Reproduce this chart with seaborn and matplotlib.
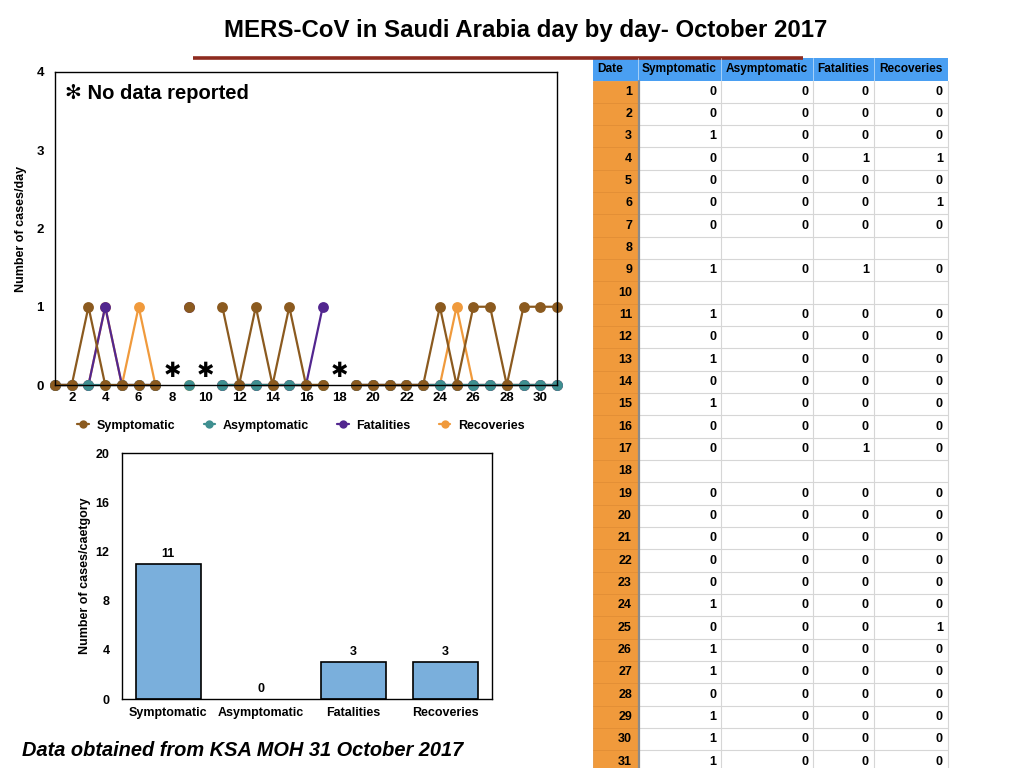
import matplotlib
matplotlib.use("Agg")
import matplotlib.pyplot as plt
from matplotlib.lines import Line2D
from matplotlib.patches import Rectangle
import seaborn as sns
import pandas as pd
import numpy as np

# ---------------- data ----------------
days = [1, 2, 3, 4, 5, 6, 7, 8, 9, 10, 11, 12, 13, 14, 15, 16,
        17, 18, 19, 20, 21, 22, 23, 24, 25, 26, 27, 28, 29, 30, 31]
N = None
symptomatic = [0, 0, 1, 0, 0, 0, 0, N, 1, N, 1, 0, 1, 0, 1, 0,
               0, N, 0, 0, 0, 0, 0, 1, 0, 1, 1, 0, 1, 1, 1]
asymptomatic = [0, 0, 0, 0, 0, 0, 0, N, 0, N, 0, 0, 0, 0, 0, 0,
                0, N, 0, 0, 0, 0, 0, 0, 0, 0, 0, 0, 0, 0, 0]
fatalities = [0, 0, 0, 1, 0, 0, 0, N, 1, N, 0, 0, 0, 0, 0, 0,
              1, N, 0, 0, 0, 0, 0, 0, 0, 0, 0, 0, 0, 0, 0]
recoveries = [0, 0, 0, 1, 0, 1, 0, N, 0, N, 0, 0, 0, 0, 0, 0,
              0, N, 0, 0, 0, 0, 0, 0, 1, 0, 0, 0, 0, 0, 0]
no_data_days = [8, 10, 18]

categories = ["Symptomatic", "Asymptomatic", "Fatalities", "Recoveries"]
totals = [11, 0, 3, 3]

title = "MERS-CoV in Saudi Arabia day by day- October 2017"
footer = "Data obtained from KSA MOH 31 October 2017"

colors = {"Symptomatic": "#8b5a1f", "Asymptomatic": "#3f8f90",
          "Fatalities": "#52268f", "Recoveries": "#f09a3c"}
series = {"Symptomatic": symptomatic, "Asymptomatic": asymptomatic,
          "Fatalities": fatalities, "Recoveries": recoveries}

# ---------------- style ----------------
sns.set_theme(style="white")
plt.rcParams["font.family"] = ["Liberation Sans", "DejaVu Sans"]
plt.rcParams["font.weight"] = "bold"
plt.rcParams["axes.labelweight"] = "bold"
for k in ["text.color", "axes.labelcolor", "xtick.color", "ytick.color"]:
    plt.rcParams[k] = "black"

fig = plt.figure(figsize=(10.24, 7.68), dpi=100)

W, H = 1024.0, 768.0
def rect(x0, y0, x1, y1):
    return [x0 / W, 1 - y1 / H, (x1 - x0) / W, (y1 - y0) / H]

# ---------------- line chart ----------------
ax = fig.add_axes(rect(55, 72, 557, 385))

def long_df(name):
    seg = 0
    rows = []
    for d, v in zip(days, series[name]):
        if v is None:
            seg += 1
            continue
        rows.append({"day": d, "value": v, "seg": seg})
    return pd.DataFrame(rows)

for name in ["Recoveries", "Fatalities", "Asymptomatic", "Symptomatic"]:
    sns.lineplot(data=long_df(name), x="day", y="value", units="seg",
                 estimator=None, color=colors[name], marker="o",
                 markersize=7.8, markeredgewidth=0, linewidth=1.6,
                 clip_on=False, legend=False, ax=ax)

ax.set_xlim(1, 31)
ax.set_ylim(0, 4)
ax.set_xticks(list(range(2, 31, 2)))
ax.set_yticks([0, 1, 2, 3, 4])
ax.set_xlabel("")
ax.set_ylabel("Number of cases/day", fontsize=9, fontweight="bold", labelpad=7)
ax.tick_params(axis="both", length=0, labelsize=9.5)
ax.tick_params(axis="y", pad=8)
ax.tick_params(axis="x", pad=5)
for lab in ax.get_xticklabels() + ax.get_yticklabels():
    lab.set_fontweight("bold")
for sp in ax.spines.values():
    sp.set_color("black")
    sp.set_linewidth(1.0)

for d in no_data_days:
    ax.text(d, 0.18, "\u2731", ha="center", va="center", fontsize=15,
            family=["DejaVu Sans"], color="black")
ax.text(0.02, 0.93, "\u273B No data reported", transform=ax.transAxes,
        ha="left", va="center", fontsize=14.5, fontweight="bold",
        family=["Liberation Sans", "DejaVu Sans"])

handles = [Line2D([0], [0], color=colors[c], marker="o", markersize=6,
                  markeredgewidth=0, lw=1.6) for c in categories]
ax.legend(handles, categories, ncol=4, frameon=False, loc="upper center",
          bbox_to_anchor=(0.49, -0.075), handlelength=0.9, handletextpad=0.6,
          columnspacing=2.3, prop={"weight": "bold", "size": 9})

# ---------------- bar chart ----------------
ax2 = fig.add_axes(rect(122, 453, 492, 699))
sns.barplot(x=categories, y=totals, color="#7aafdc", edgecolor="black",
            linewidth=1.2, width=0.7, saturation=1, ax=ax2)
for p, t in zip(ax2.patches, totals):
    if t == 0:
        p.set_linewidth(0)
ax2.set_ylim(0, 20)
ax2.set_yticks([0, 4, 8, 12, 16, 20])
ax2.set_ylabel("Number of cases/caetgory", fontsize=9, fontweight="bold", labelpad=3)
ax2.tick_params(axis="both", length=0, labelsize=9)
ax2.tick_params(axis="y", pad=9)
ax2.tick_params(axis="x", pad=6)
for lab in ax2.get_xticklabels() + ax2.get_yticklabels():
    lab.set_fontweight("bold")
for sp in ax2.spines.values():
    sp.set_color("black")
    sp.set_linewidth(1.0)
ax2.bar_label(ax2.containers[0], fontweight="bold", fontsize=9, padding=3)

# ---------------- overlay: title, rule, table, footer ----------------
ov = fig.add_axes([0, 0, 1, 1], zorder=-1)
ov.set_xlim(0, W)
ov.set_ylim(H, 0)
ov.axis("off")

ov.text(526, 31, title, ha="center", va="center", fontsize=17.3, fontweight="bold")
ov.plot([193, 803], [57.5, 57.5], color="#8e2b1f", lw=2.6, solid_capstyle="butt")
ov.text(22, 750, footer, ha="left", va="center", fontsize=14.4,
        fontweight="bold", style="italic")

col_edges = [593, 638, 721, 813, 874, 948]
headers = ["Date"] + categories
head_top, head_bot = 58, 80.5
row_h = 22.33
ov.add_patch(Rectangle((col_edges[0], head_top), col_edges[-1] - col_edges[0],
                       head_bot - head_top, facecolor="#4a9ff2", edgecolor="none"))
for i, h in enumerate(headers):
    if i == 0:
        ov.text(col_edges[0] + 4, (head_top + head_bot) / 2, h, ha="left",
                va="center", fontsize=8.6, fontweight="bold")
    else:
        ov.text((col_edges[i] + col_edges[i + 1]) / 2, (head_top + head_bot) / 2, h,
                ha="center", va="center", fontsize=8.6, fontweight="bold")
for i in range(1, 5):
    ov.plot([col_edges[i], col_edges[i]], [head_top, head_bot], color="#ffffff", lw=0.6, alpha=0.6)

table_cols = [symptomatic, asymptomatic, fatalities, recoveries]
for r, d in enumerate(days):
    y0 = head_bot + r * row_h
    yc = y0 + row_h / 2
    ov.add_patch(Rectangle((col_edges[0], y0), col_edges[1] - col_edges[0], row_h,
                           facecolor="#f09a3c", edgecolor="#e08a30", lw=0.5))
    ov.text(col_edges[1] - 6, yc, str(d), ha="right", va="center",
            fontsize=9, fontweight="bold")
    ov.add_patch(Rectangle((col_edges[1], y0), col_edges[-1] - col_edges[1], row_h,
                           facecolor="white", edgecolor="none"))
    ov.plot([col_edges[1], col_edges[-1]], [y0 + row_h, y0 + row_h], color="#d6d6d6", lw=0.8)
    for c, vals in enumerate(table_cols):
        v = vals[r]
        if v is not None:
            ov.text(col_edges[c + 2] - 5, yc, str(v), ha="right", va="center",
                    fontsize=9, fontweight="bold")
bottom = head_bot + len(days) * row_h
for x in col_edges[2:]:
    ov.plot([x, x], [head_bot, bottom], color="#d6d6d6", lw=0.8)
ov.plot([col_edges[1] + 0.8, col_edges[1] + 0.8], [head_bot, bottom], color="#8a8a8a", lw=1.6)

fig.savefig("out.png", dpi=100)
